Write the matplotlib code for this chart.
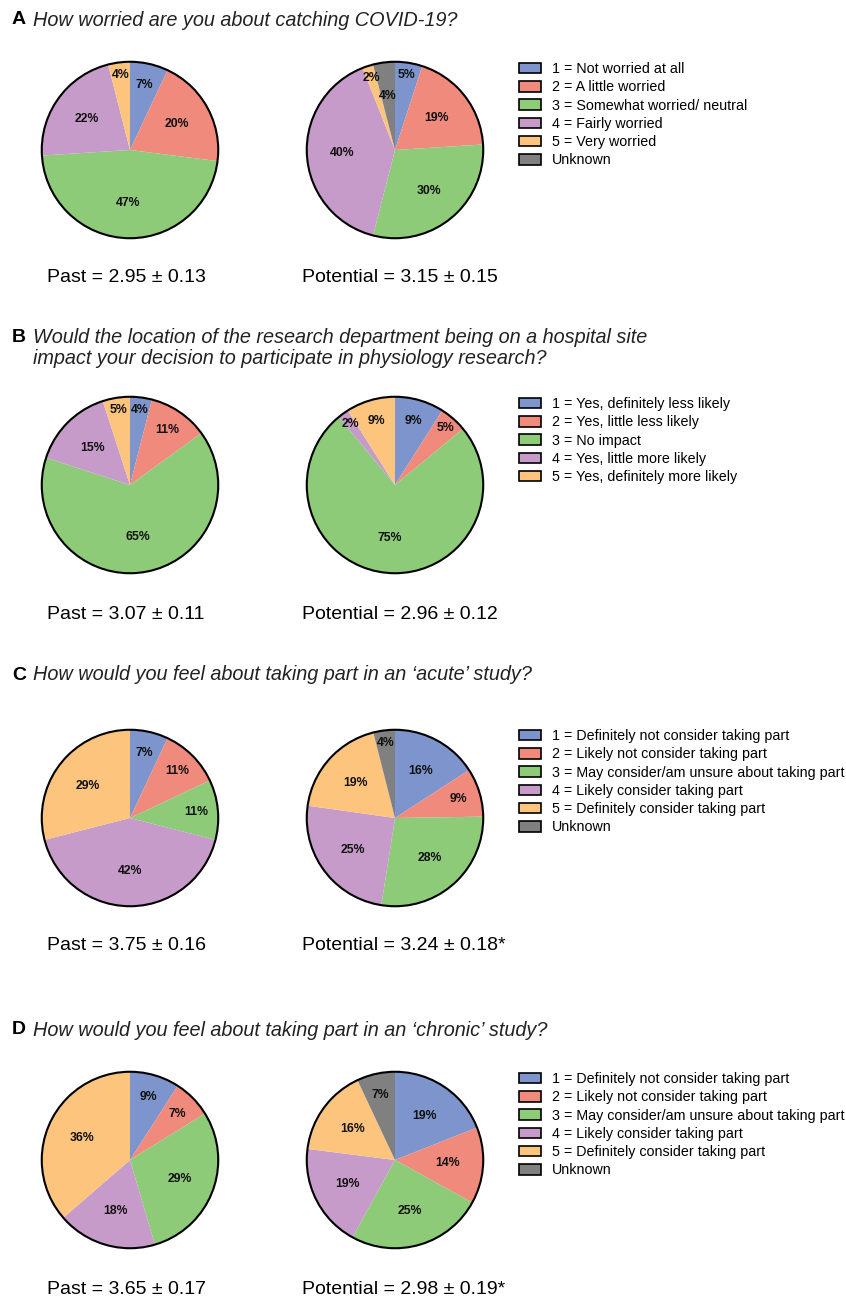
import numpy as np
import matplotlib
matplotlib.use("Agg")
import matplotlib.pyplot as plt
from matplotlib.patches import Patch, Circle

plt.rcParams['font.family'] = ['Liberation Sans', 'DejaVu Sans']

# colours for the answer categories (1..5, unknown)
cols = ['#7D94CD', '#F08A7C', '#8DCB79', '#C79BC9', '#FDC47E', '#808080']

# ---- data ----
# A: worried about catching COVID-19
a_labels = ['1 = Not worried at all', '2 = A little worried',
            '3 = Somewhat worried/ neutral', '4 = Fairly worried',
            '5 = Very worried', 'Unknown']
a_past = [7, 20, 47, 22, 4, 0]
a_pot = [5, 19, 30, 40, 2, 4]
a_cap = ['Past = 2.95 \u00b1 0.13', 'Potential = 3.15 \u00b1 0.15']

# B: hospital site
b_labels = ['1 = Yes, definitely less likely', '2 = Yes, little less likely',
            '3 = No impact', '4 = Yes, little more likely',
            '5 = Yes, definitely more likely']
b_past = [4, 11, 65, 15, 5]
b_pot = [9, 5, 75, 2, 9]
b_cap = ['Past = 3.07 \u00b1 0.11', 'Potential = 2.96 \u00b1 0.12']

# C / D: acute and chronic study
cd_labels = ['1 = Definitely not consider taking part',
             '2 = Likely not consider taking part',
             '3 = May consider/am unsure about taking part',
             '4 = Likely consider taking part',
             '5 = Definitely consider taking part', 'Unknown']
c_past = [7, 11, 11, 42, 29, 0]
c_pot = [16, 9, 28, 25, 19, 4]
c_cap = ['Past = 3.75 \u00b1 0.16', 'Potential = 3.24 \u00b1 0.18*']
d_past = [9, 7, 29, 18, 36, 0]
d_pot = [19, 14, 25, 19, 16, 7]
d_cap = ['Past = 3.65 \u00b1 0.17', 'Potential = 2.98 \u00b1 0.19*']

titles = [('A', ['How worried are you about catching COVID-19?']),
          ('B', ['Would the location of the research department being on a hospital site',
                 'impact your decision to participate in physiology research?']),
          ('C', ['How would you feel about taking part in an \u2018acute\u2019 study?']),
          ('D', ['How would you feel about taking part in an \u2018chronic\u2019 study?'])]

W, H = 846, 1301
fig = plt.figure(figsize=(W / 100, H / 100), dpi=100)


def fx(x):
    return x / W


def fy(y):
    return 1 - y / H


def draw_pie(cx, cy, vals, R=90):
    ax = fig.add_axes([fx(cx - R), fy(cy + R), 2 * R / W, 2 * R / H])
    idx = [i for i, v in enumerate(vals) if v > 0]
    v = [vals[i] for i in idx]
    c = [cols[i] for i in idx]
    wedges, _ = ax.pie(v, colors=c, startangle=90, counterclock=False,
                       wedgeprops=dict(linewidth=0))
    prev_small = False
    for w, val in zip(wedges, v):
        ang = np.deg2rad((w.theta1 + w.theta2) / 2)
        if val <= 5 and prev_small:
            r = 0.62   # two tiny slices side by side: pull this one in
        elif val <= 5:
            r = 0.86
        elif val <= 11:
            r = 0.75
        else:
            r = 0.6
        prev_small = val <= 5
        ax.text(r * np.cos(ang), r * np.sin(ang), '%d%%' % val,
                ha='center', va='center', fontsize=8.8, fontweight='bold',
                color='#111111')
    ax.add_patch(Circle((0, 0), 1, fill=False, lw=1.5, ec='black'))
    ax.set_xlim(-1.02, 1.02)
    ax.set_ylim(-1.02, 1.02)
    ax.axis('off')


def draw_title(y, letter, lines):
    fig.text(fx(12), fy(y), letter, fontsize=14, fontweight='bold',
             ha='left', va='center')
    for k, line in enumerate(lines):
        fig.text(fx(33), fy(y + 21 * k), line, fontsize=14.3, style='italic',
                 ha='left', va='center', color='#222222')


def draw_legend(y, labels):
    hs = [Patch(facecolor=cols[i], edgecolor='black', linewidth=1.2)
          for i in range(len(labels))]
    fig.legend(hs, labels, loc='upper left', bbox_to_anchor=(fx(519), fy(y)),
               frameon=False, fontsize=10.3, handlelength=1.55,
               handleheight=0.75, handletextpad=0.75, labelspacing=0.3,
               borderaxespad=0, borderpad=0)


def draw_caps(y, caps):
    fig.text(fx(47), fy(y), caps[0], fontsize=14, ha='left', va='center')
    fig.text(fx(302), fy(y), caps[1], fontsize=14, ha='left', va='center')


panels = [(20, 150, 62, 277, a_past, a_pot, a_labels, a_cap),
          (337, 485, 397, 614, b_past, b_pot, b_labels, b_cap),
          (675, 818, 729, 946, c_past, c_pot, cd_labels, c_cap),
          (1030, 1160, 1072, 1290, d_past, d_pot, cd_labels, d_cap)]

for (ty, py, ly, cy, past, pot, labs, caps), (letter, lines) in zip(panels, titles):
    draw_title(ty, letter, lines)
    draw_pie(130, py, past)
    draw_pie(395, py, pot)
    draw_legend(ly, labs)
    draw_caps(cy, caps)

fig.savefig('out.png', dpi=100)
